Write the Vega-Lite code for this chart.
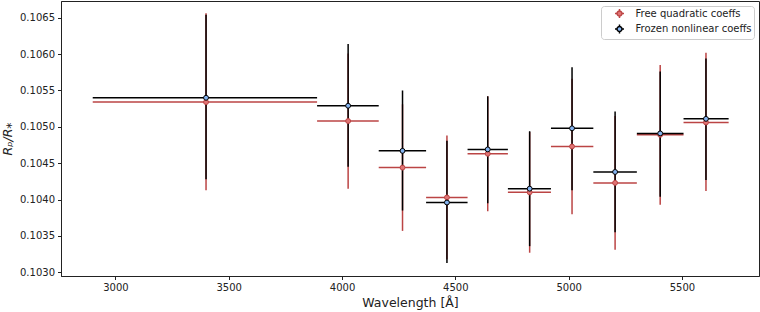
{
  "$schema": "https://vega.github.io/schema/vega-lite/v6.json",
  "width": 698,
  "height": 275,
  "autosize": "none",
  "padding": {"left": 61, "top": 1, "right": 1, "bottom": 36},
  "config": {
    "font": "DejaVu Sans",
    "view": {"stroke": "#222", "strokeWidth": 1},
    "axis": {"grid": false, "domainColor": "#222", "tickColor": "#222", "labelColor": "#222", "titleColor": "#222", "labelFontSize": 10, "titleFontSize": 12.5, "titleFontWeight": "normal", "tickSize": 3.5, "labelPadding": 3}
  },
  "data": {"values": [
    {"series": "Free quadratic coeffs", "wl": 3400, "lo": 2900, "hi": 3890, "val": 0.10534, "ylo": 0.10413, "yhi": 0.10656},
    {"series": "Free quadratic coeffs", "wl": 4027, "lo": 3890, "hi": 4162, "val": 0.10508, "ylo": 0.10415, "yhi": 0.10601},
    {"series": "Free quadratic coeffs", "wl": 4267, "lo": 4162, "hi": 4371, "val": 0.10444, "ylo": 0.10357, "yhi": 0.10531},
    {"series": "Free quadratic coeffs", "wl": 4463, "lo": 4371, "hi": 4554, "val": 0.10403, "ylo": 0.10318, "yhi": 0.10488},
    {"series": "Free quadratic coeffs", "wl": 4643, "lo": 4554, "hi": 4732, "val": 0.10463, "ylo": 0.10384, "yhi": 0.10542},
    {"series": "Free quadratic coeffs", "wl": 4828, "lo": 4732, "hi": 4922, "val": 0.10410, "ylo": 0.10327, "yhi": 0.10493},
    {"series": "Free quadratic coeffs", "wl": 5015, "lo": 4922, "hi": 5109, "val": 0.10473, "ylo": 0.10380, "yhi": 0.10566},
    {"series": "Free quadratic coeffs", "wl": 5205, "lo": 5109, "hi": 5301, "val": 0.10423, "ylo": 0.10331, "yhi": 0.10515},
    {"series": "Free quadratic coeffs", "wl": 5404, "lo": 5301, "hi": 5507, "val": 0.10489, "ylo": 0.10393, "yhi": 0.10585},
    {"series": "Free quadratic coeffs", "wl": 5606, "lo": 5507, "hi": 5706, "val": 0.10506, "ylo": 0.10412, "yhi": 0.10602},
    {"series": "Frozen nonlinear coeffs", "wl": 3400, "lo": 2900, "hi": 3890, "val": 0.10540, "ylo": 0.10428, "yhi": 0.10654},
    {"series": "Frozen nonlinear coeffs", "wl": 4027, "lo": 3890, "hi": 4162, "val": 0.10529, "ylo": 0.10445, "yhi": 0.10614},
    {"series": "Frozen nonlinear coeffs", "wl": 4267, "lo": 4162, "hi": 4371, "val": 0.10467, "ylo": 0.10385, "yhi": 0.10550},
    {"series": "Frozen nonlinear coeffs", "wl": 4463, "lo": 4371, "hi": 4554, "val": 0.10396, "ylo": 0.10313, "yhi": 0.10481},
    {"series": "Frozen nonlinear coeffs", "wl": 4643, "lo": 4554, "hi": 4732, "val": 0.10469, "ylo": 0.10395, "yhi": 0.10542},
    {"series": "Frozen nonlinear coeffs", "wl": 4828, "lo": 4732, "hi": 4922, "val": 0.10415, "ylo": 0.10336, "yhi": 0.10494},
    {"series": "Frozen nonlinear coeffs", "wl": 5015, "lo": 4922, "hi": 5109, "val": 0.10498, "ylo": 0.10413, "yhi": 0.10582},
    {"series": "Frozen nonlinear coeffs", "wl": 5205, "lo": 5109, "hi": 5301, "val": 0.10438, "ylo": 0.10355, "yhi": 0.10521},
    {"series": "Frozen nonlinear coeffs", "wl": 5404, "lo": 5301, "hi": 5507, "val": 0.10491, "ylo": 0.10404, "yhi": 0.10576},
    {"series": "Frozen nonlinear coeffs", "wl": 5606, "lo": 5507, "hi": 5706, "val": 0.10511, "ylo": 0.10427, "yhi": 0.10594}
  ]},
  "encoding": {
    "x": {"field": "wl", "type": "quantitative", "scale": {"domain": [2760, 5840], "nice": false, "zero": false},
          "axis": {"title": "Wavelength [Å]", "values": [3000, 3500, 4000, 4500, 5000, 5500], "format": "d", "titlePadding": 4}},
    "y": {"field": "val", "type": "quantitative", "scale": {"domain": [0.10295, 0.10673], "nice": false, "zero": false},
          "axis": {"title": "Rₚ/R⁎", "titleFontStyle": "italic", "values": [0.1030, 0.1035, 0.1040, 0.1045, 0.1050, 0.1055, 0.1060, 0.1065], "format": ".4f", "titlePadding": 5}}
  },
  "layer": [
    {
      "mark": {"type": "rule", "strokeWidth": 1.5},
      "encoding": {
        "x": {"field": "lo", "type": "quantitative"},
        "x2": {"field": "hi"},
        "stroke": {"field": "series", "type": "nominal", "scale": {"domain": ["Free quadratic coeffs", "Frozen nonlinear coeffs"], "range": ["#bb4444", "#000000"]}}
      }
    },
    {
      "mark": {"type": "rule", "strokeWidth": 1.5},
      "encoding": {
        "y": {"field": "ylo", "type": "quantitative"},
        "y2": {"field": "yhi"},
        "stroke": {"field": "series", "type": "nominal"}
      }
    },
    {
      "mark": {"type": "point", "shape": "circle", "filled": true, "size": 24, "strokeWidth": 1, "opacity": 1},
      "encoding": {
        "fill": {"field": "series", "type": "nominal", "scale": {"domain": ["Free quadratic coeffs", "Frozen nonlinear coeffs"], "range": ["#e07474", "#86b4f0"]},
                 "legend": {"title": null, "orient": "top-right", "offset": 5, "symbolType": "M-1,0H-0.55M0.55,0H1M0,-1V-0.55M0,0.55V1M0.55,0A0.55,0.55,0,1,1,-0.55,0A0.55,0.55,0,1,1,0.55,0Z", "symbolSize": 81, "symbolStrokeWidth": 1.5, "symbolOpacity": 1, "symbolOffset": 11, "labelFontSize": 10, "labelColor": "#222", "strokeColor": "#cccccc", "fillColor": "white", "padding": 2, "cornerRadius": 3, "rowPadding": 0.5, "labelLimit": 250, "labelOffset": 10.5}},
        "stroke": {"field": "series", "type": "nominal",
                 "legend": {"title": null, "orient": "top-right", "offset": 5, "symbolType": "M-1,0H-0.55M0.55,0H1M0,-1V-0.55M0,0.55V1M0.55,0A0.55,0.55,0,1,1,-0.55,0A0.55,0.55,0,1,1,0.55,0Z", "symbolSize": 81, "symbolStrokeWidth": 1.5, "symbolOpacity": 1, "symbolOffset": 11, "labelFontSize": 10, "labelColor": "#222", "strokeColor": "#cccccc", "fillColor": "white", "padding": 2, "cornerRadius": 3, "rowPadding": 0.5, "labelLimit": 250, "labelOffset": 10.5}}
      }
    }
  ]
}
